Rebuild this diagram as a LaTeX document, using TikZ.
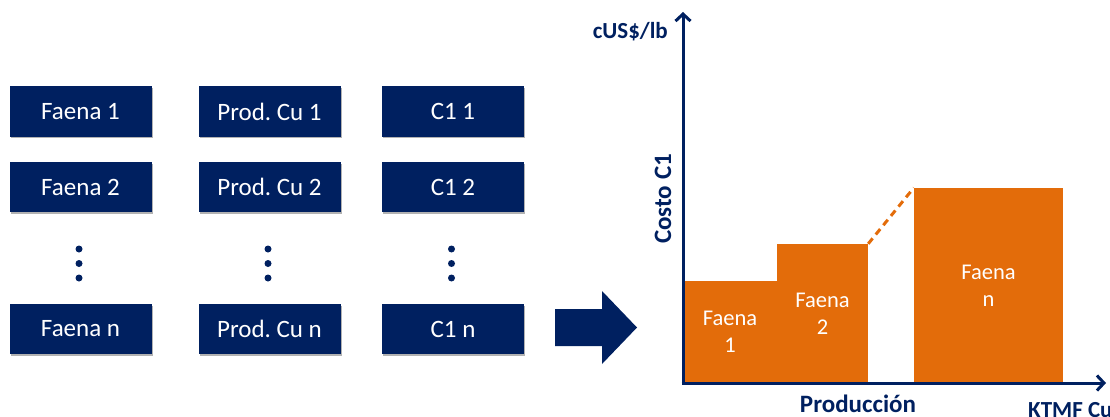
\documentclass[tikz,border=0pt]{standalone}
\usepackage{fontspec}
\setmainfont{Carlito}
\usetikzlibrary{arrows.meta,shadows}
\definecolor{navy}{RGB}{0,32,96}
\definecolor{cuorange}{RGB}{227,108,10}
\begin{document}
\begin{tikzpicture}[x=1pt,y=-1pt,
  databox/.style={fill=navy,text=white,minimum width=142pt,minimum height=50pt,inner sep=0pt,
    font=\fontsize{25}{30}\selectfont,
    drop shadow={shadow xshift=1.2pt,shadow yshift=-1.8pt,opacity=.3,fill=black}},
  bar/.style={fill=cuorange,text=white,inner sep=0pt,align=center,
    font=\fontsize{22.5}{27}\selectfont},
  vdot/.style={fill=navy,circle,inner sep=0pt,minimum size=7pt},
  axis/.style={draw=navy,line width=3pt,-{Straight Barb[length=7pt,width=15pt]}},
  axlabel/.style={text=navy,font=\bfseries\fontsize{25}{30}\selectfont,inner sep=0pt}]
\useasboundingbox (0,0) rectangle (1110,417);
% left table
\foreach \c/\x/\t in {a/80.5/Faena, b/269.5/Prod.\ Cu, c/453/C1}{
  \node[databox] (\c1) at (\x,111.5) {\t\ 1};
  \node[databox] (\c2) at (\x,187) {\t\ 2};
  \node[databox] (\c3) at (\x,329) {\t\ n};
  \node[vdot] (\c d1) at (\x-1.5,249) {};
  \node[vdot] (\c d2) at (\x-1.5,263.5) {};
  \node[vdot] (\c d3) at (\x-1.5,278) {};
}
% big arrow
\fill[navy] (555,309) -- (602,309) -- (602,291) -- (637,327.5) -- (602,364) -- (602,346) -- (555,346) -- cycle;
% bars
\node[bar,minimum width=94pt,minimum height=102pt] (bar1) at (730,332) {Faena\\1};
\node[bar,minimum width=91pt,minimum height=139pt] (bar2) at (822.5,313.5) {Faena\\2};
\node[bar,minimum width=149pt,minimum height=195pt] (barn) at (988.5,285.5) {Faena\\n};
\draw[cuorange,line width=3pt,dash pattern=on 7pt off 5pt] (bar2.north east) -- (barn.north west);
% axes
\coordinate (O) at (683,383);
\coordinate (ytop) at (683,12);
\coordinate (xend) at (1106,383);
\draw[axis] (O) -- (ytop);
\draw[axis] ([xshift=-1.5pt]O) -- (xend);
% labels
\node[axlabel,font=\bfseries\fontsize{23}{28}\selectfont,anchor=base east] (ylab) at (668,39) {cUS\$/lb};
\node[axlabel,rotate=90,anchor=base] (costo) at (671,199) {Costo C1};
\node[axlabel,anchor=base] (prod) at (858,412) {Producción};
\node[axlabel,font=\bfseries\fontsize{23}{28}\selectfont,anchor=base west] (ktmf) at (1028,417) {KTMF Cu};
\end{tikzpicture}
\end{document}
